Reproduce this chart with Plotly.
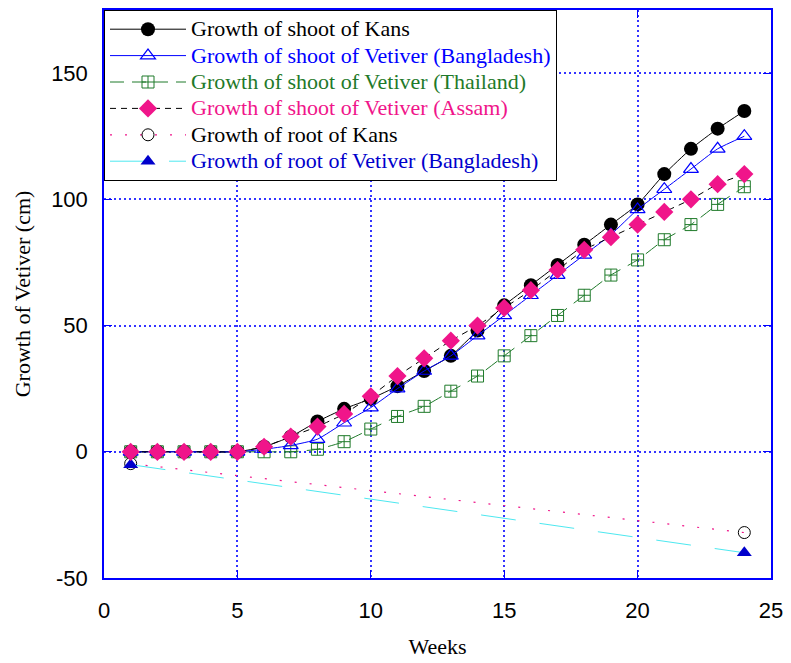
import plotly.graph_objects as go

weeks = list(range(1, 25))
kans_shoot = [0, 0, 0, 0, 0, 2, 6, 12, 17, 21, 26, 32, 38, 48, 58, 66, 74, 82, 90, 98, 110, 120, 128, 135]
bd_shoot = [0, 0, 0, 0, 0, 1, 2.5, 5, 11.5, 17.5, 25, 32, 38, 46, 54, 62, 70, 78, 86, 96, 104, 112, 120, 125]
th_shoot = [0, 0, 0, 0, 0, 0, 0, 1, 4, 9, 14, 18, 24, 30, 38, 46, 54, 62, 70, 76, 84, 90, 98, 105]
as_shoot = [0, 0, 0, 0, 0, 2, 6, 10, 15, 22, 30, 37, 44, 50, 57, 64, 72, 80, 85, 90, 95, 100, 106, 110]
root_weeks = [1, 24]
kans_root = [-4.7, -32]
bd_root = [-5.1, -40]
x_ticks = [0, 5, 10, 15, 20, 25]
y_ticks = [-50, 0, 50, 100, 150]
y_ticklabels = ["-50", "0", "50", "100", "150"]

BLUE = "#0000ff"
GREEN = "#1f7a2a"
PINK = "#f0158a"
CYAN = "#4de8f0"

def nm(t, c):
    return f"<span style='color:{c};font-size:22px'>{t}</span>"

fig = go.Figure()
fig.add_trace(go.Scatter(x=root_weeks, y=kans_root, mode="lines+markers",
    name=nm("Growth of root of Kans", "#000000"),
    line=dict(color=PINK, width=1.2, dash="2px,13px"),
    marker=dict(symbol="circle-open", size=12, color="#000000", line=dict(width=1))))
fig.add_trace(go.Scatter(x=root_weeks, y=bd_root, mode="lines+markers",
    name=nm("Growth of root of Vetiver (Bangladesh)", "#0000cc"),
    line=dict(color=CYAN, width=1, dash="35px,24px"),
    marker=dict(symbol="triangle-up", size=13, color="#0000cc")))
fig.add_trace(go.Scatter(x=weeks, y=th_shoot, mode="lines+markers",
    name=nm("Growth of shoot of Vetiver (Thailand)", GREEN),
    line=dict(color=GREEN, width=1, dash="14px,8px", shape="spline", smoothing=0.5),
    marker=dict(symbol="square-cross-open", size=12, color=GREEN, line=dict(width=1))))
fig.add_trace(go.Scatter(x=weeks, y=kans_shoot, mode="lines+markers",
    name=nm("Growth of shoot of Kans", "#000000"),
    line=dict(color="#000000", width=1, shape="spline", smoothing=0.5),
    marker=dict(symbol="circle", size=14, color="#000000")))
fig.add_trace(go.Scatter(x=weeks, y=bd_shoot, mode="lines+markers",
    name=nm("Growth of shoot of Vetiver (Bangladesh)", BLUE),
    line=dict(color=BLUE, width=1, shape="spline", smoothing=0.5),
    marker=dict(symbol="triangle-up-open", size=13, color=BLUE, line=dict(width=1.2))))
fig.add_trace(go.Scatter(x=weeks, y=as_shoot, mode="lines+markers",
    name=nm("Growth of shoot of Vetiver (Assam)", PINK),
    line=dict(color="#000000", width=1, dash="6px,5px", shape="spline", smoothing=0.5),
    marker=dict(symbol="diamond", size=14, color=PINK)))

ranks = {3: 1, 4: 2, 2: 3, 5: 4, 0: 5, 1: 6}
for i, tr in enumerate(fig.data):
    tr.legendrank = ranks[i]

fig.update_layout(
    width=791, height=663,
    margin=dict(l=104, r=17, t=8, b=83),
    plot_bgcolor="white", paper_bgcolor="white",
    font=dict(family="Liberation Serif", size=18, color="black"),
    legend=dict(x=0, y=1, xanchor="left", yanchor="top",
                bgcolor="white", bordercolor="black", borderwidth=1,
                font=dict(family="Liberation Serif", size=18),
                traceorder="normal", itemwidth=76),
    showlegend=True,
)

axis_common = dict(showline=True, linecolor=BLUE, linewidth=1.5, mirror="allticks",
                   ticks="inside", ticklen=8, tickcolor=BLUE,
                   showgrid=True, gridcolor="#3333ff", griddash="2px,3px", gridwidth=1.6,
                   zeroline=False,
                   tickfont=dict(family="Liberation Sans", size=22, color="black"))
fig.update_xaxes(range=[0, 25], tickvals=x_ticks, ticklabelstandoff=12,
                 title=dict(text="Weeks", font=dict(family="Liberation Serif", size=22), standoff=16),
                 **axis_common)
fig.update_yaxes(range=[-50, 175], tickvals=y_ticks, ticktext=y_ticklabels, ticklabelstandoff=10,
                 title=dict(text="Growth of Vetiver (cm)", font=dict(family="Liberation Serif", size=22), standoff=14),
                 **axis_common)

fig.write_html("out.html")
